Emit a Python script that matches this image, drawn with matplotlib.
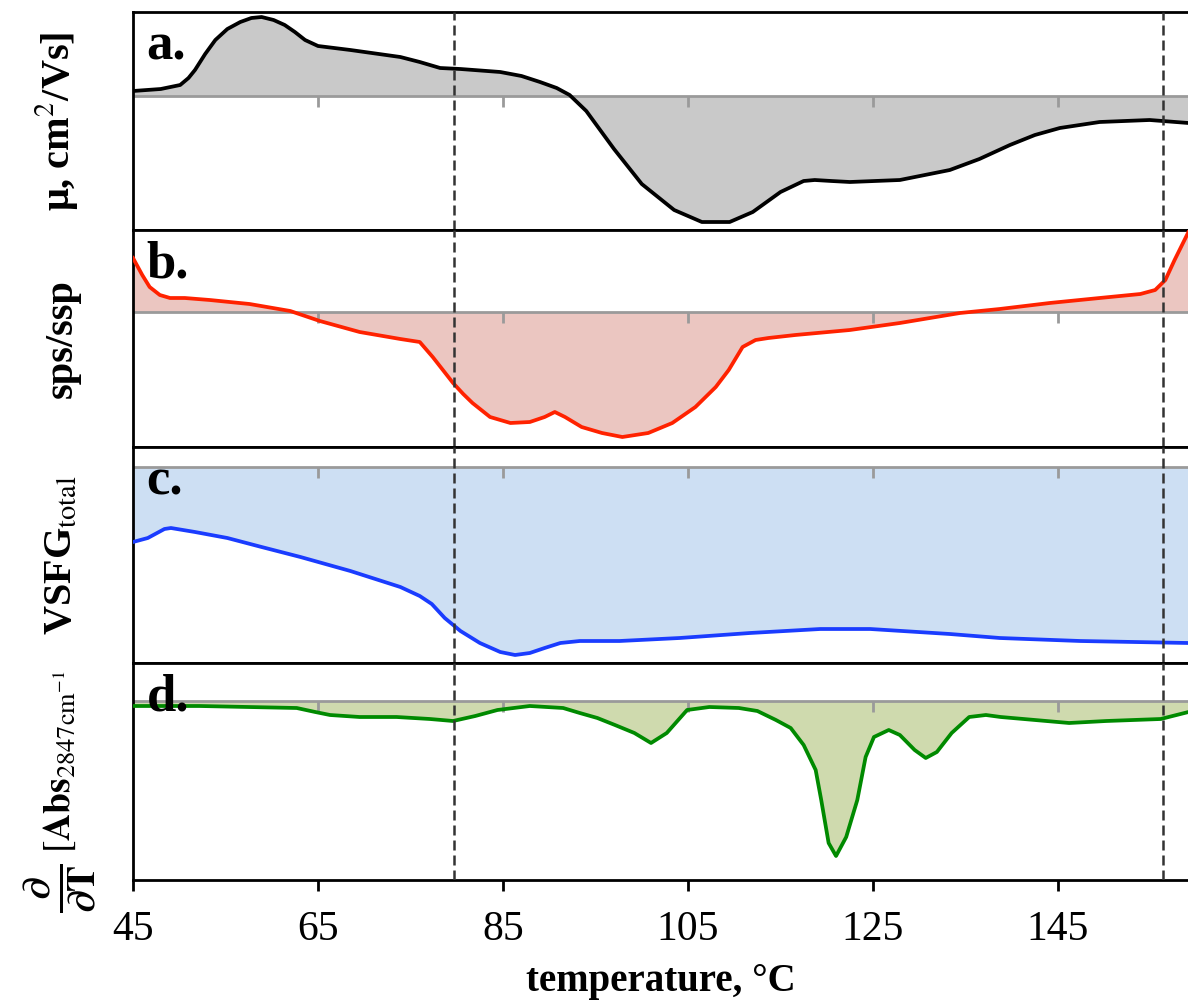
import matplotlib
matplotlib.use("Agg")
import matplotlib.pyplot as plt
import numpy as np

plt.rcParams["font.family"] = ["Liberation Serif", "DejaVu Serif"]
plt.rcParams["mathtext.fontset"] = "stix"

# panel a: mobility (arbitrary units, 0 = gray baseline)
t_a = [45.0, 48.0, 50.1, 51.0, 51.7, 52.8, 53.9, 55.2, 56.6, 57.8, 58.9, 60.2, 61.4, 62.5,
       63.6, 65.0, 68.5, 73.9, 76.0, 78.2, 80.4, 84.7, 87.0, 89.0, 90.8, 92.2, 94.0,
       97.0, 100.0, 103.5, 106.5, 109.5, 112.0, 115.0, 117.5, 118.7, 120.5, 122.5,
       127.9, 133.3, 136.5, 139.8, 142.5, 145.2, 149.5, 154.9, 159.1]
mu = [0.5, 0.7, 1.1, 1.8, 2.6, 4.2, 5.6, 6.7, 7.4, 7.8, 7.9, 7.6, 7.1, 6.4,
      5.6, 5.0, 4.6, 3.9, 3.4, 2.8, 2.7, 2.4, 2.0, 1.4, 0.8, 0.1, -1.5,
      -5.3, -8.8, -11.4, -12.6, -12.6, -11.6, -9.6, -8.5, -8.4, -8.5, -8.6,
      -8.4, -7.4, -6.3, -4.9, -3.9, -3.2, -2.6, -2.4, -2.7]

# panel b: sps/ssp ratio
t_b = [45.0, 46.0, 46.8, 47.9, 49.0, 50.6, 53.3, 57.6, 62.0, 65.2, 69.5, 73.9, 76.0,
       77.4, 78.5, 79.6, 80.7, 81.7, 83.6, 85.8, 87.9, 89.5, 90.6, 91.7, 93.5, 95.7, 97.9,
       100.7, 103.3, 105.8, 108.0, 109.4, 110.9, 112.3, 113.7, 116.6, 122.5,
       127.9, 134.4, 138.7, 144.1, 149.5, 153.9, 155.5, 156.6, 157.6, 159.1]
sps = [5.4, 3.7, 2.5, 1.7, 1.4, 1.4, 1.2, 0.8, 0.1, -0.9, -2.0, -2.7, -3.0,
       -4.5, -5.8, -7.1, -8.2, -9.1, -10.5, -11.1, -11.0, -10.5, -10.0, -10.5, -11.5, -12.1, -12.5,
       -12.1, -11.1, -9.5, -7.5, -5.8, -3.5, -2.8, -2.6, -2.3, -1.8,
       -1.1, -0.1, 0.3, 0.9, 1.4, 1.8, 2.2, 3.2, 5.2, 8.0]

# panel c: total VSFG intensity
t_c = [45.0, 46.6, 48.4, 49.1, 51.7, 55.2, 58.9, 63.1, 68.5, 73.9, 76.0, 77.3,
       78.7, 80.4, 82.5, 84.7, 86.3, 87.9, 89.5, 91.2, 93.3, 97.6, 104.1,
       111.7, 119.3, 124.7, 133.3, 138.7, 147.4, 159.1]
vsfg = [-7.5, -7.1, -6.2, -6.1, -6.5, -7.1, -8.0, -9.0, -10.4, -12.0, -12.9, -13.7,
        -15.1, -16.4, -17.6, -18.5, -18.8, -18.6, -18.1, -17.6, -17.4, -17.4, -17.1,
        -16.6, -16.2, -16.2, -16.7, -17.1, -17.4, -17.6]

# panel d: d/dT of absorbance at 2847 cm-1
t_d = [45.0, 52.2, 62.7, 64.7, 66.3, 69.5, 73.5, 77.1, 79.6, 82.0, 84.4, 87.9,
       91.5, 93.3, 95.2, 97.1, 99.2, 101.0, 102.7, 104.9, 107.3, 110.5, 112.5,
       114.5, 116.1, 117.5, 118.8, 119.4, 120.2, 121.0, 122.1, 123.3, 124.2,
       125.1, 126.7, 127.9, 129.5, 130.7, 131.9, 133.5, 135.4, 137.2, 138.8,
       146.2, 150.2, 156.1, 159.1]
dabs = [-0.5, -0.5, -0.7, -1.1, -1.4, -1.6, -1.6, -1.8, -2.0, -1.5, -0.9, -0.5,
        -0.7, -1.2, -1.7, -2.4, -3.2, -4.2, -3.2, -0.9, -0.6, -0.7, -1.0,
        -1.9, -2.7, -4.4, -6.9, -9.9, -14.2, -15.5, -13.6, -9.9, -5.6,
        -3.6, -2.9, -3.4, -4.9, -5.7, -5.1, -3.2, -1.6, -1.4, -1.6,
        -2.2, -2.0, -1.8, -1.1]

transitions = [79.7, 156.3]
tick_vals = [45, 65, 85, 105, 125, 145]

panels = [
    ("a.", t_a, mu, "#000000", "#c9c9c9", (-13.4, 8.4), "μ, cm$^{2}$/Vs]"),
    ("b.", t_b, sps, "#ff2200", "#ebc6c1", (-13.5, 8.2), "sps/ssp"),
    ("c.", t_c, vsfg, "#1a3cff", "#cddff3", (-19.6, 2.0), r"VSFG$_{\mathrm{total}}$"),
    ("d.", t_d, dabs, "#008a00", "#cfdaae", (-17.9, 3.8), None),
]
bounds = [(12, 230), (230, 447), (447, 663), (663, 880)]

fig = plt.figure(figsize=(11.88, 10.02), dpi=100)
H = 1002.0
W = 1188.0
x0, x1 = 133 / W, 1.0
axes = []
for (lab, t, v, lc, fc, ylim, ylab), (top, bot) in zip(panels, bounds):
    ax = fig.add_axes([x0, 1 - bot / H, x1 - x0, (bot - top) / H])
    ax.fill_between(t, v, 0, color=fc, lw=0)
    ax.axhline(0, color="#9a9a9a", lw=2, zorder=2)
    ax.plot(tick_vals[1:], [0] * 5, ls="none", marker=3, ms=8, mew=2,
            color="#9a9a9a", zorder=2)
    ax.plot(t, v, color=lc, lw=2.7, zorder=4, solid_joinstyle="round")
    for tr in transitions:
        ax.axvline(tr, color="#333333", lw=1.8, ls=(0, (4, 2)), zorder=5)
    ax.set_xlim(45, 159.05)
    ax.set_ylim(*ylim)
    ax.set_yticks([])
    ax.spines["right"].set_visible(False)
    for s in ["top", "bottom", "left"]:
        ax.spines[s].set_linewidth(2)
    ax.text(0.013, 0.95, lab, transform=ax.transAxes, fontsize=38,
            fontweight="bold", va="top", ha="left", zorder=6)
    if ylab:
        ax.set_ylabel(ylab, fontsize=29, fontweight="bold")
        ax.yaxis.set_label_coords(-0.05, 0.5)
    axes.append(ax)

for ax in axes[:-1]:
    ax.set_xticks([])

axd = axes[-1]
axd.set_xticks(tick_vals)
axd.tick_params(axis="x", direction="out", length=8, width=2, labelsize=30,
                pad=14)
axd.set_xlabel("temperature, °C", fontsize=28, fontweight="bold", labelpad=10)

# y label of panel d: derivative fraction + bracketed absorbance
fig.text(60 / W, 1 - 888 / H, r"$\mathbf{\frac{\partial}{\partial T}}$",
         rotation=90, fontsize=40, ha="center", va="center")
fig.text(60 / W, 1 - 762 / H,
         r"$\left[\mathbf{Abs}_{\mathrm{2847cm^{-1}}}\right.$",
         rotation=90, fontsize=27, ha="center", va="center")

fig.savefig("out.png", dpi=100)
